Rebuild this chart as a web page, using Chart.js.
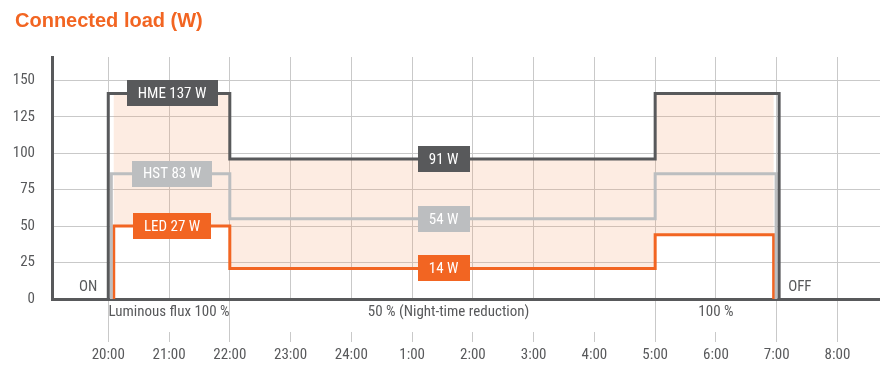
<!DOCTYPE html>
<html>
<head>
<meta charset="utf-8">
<script src="https://cdn.jsdelivr.net/npm/chart.js@4.4.1/dist/chart.umd.min.js"></script>
<style>
  html, body { margin: 0; padding: 0; background: #fff; }
  #wrap { position: relative; width: 880px; height: 379px; }
  #title { position: absolute; left: 15px; top: 10px; font: bold 20px/20px "Liberation Sans", Arial, sans-serif; color: #f26522; }
</style>
</head>
<body>
<div id="wrap">
  <div id="title">Connected load (W)</div>
  <canvas id="loadChart"></canvas>
</div>
<script>
// time axis in hours, 24 = midnight, 32 = 8:00 next morning
const hourTicks = [20, 21, 22, 23, 24, 25, 26, 27, 28, 29, 30, 31, 32];
const hourLabels = ['20:00', '21:00', '22:00', '23:00', '24:00', '1:00', '2:00', '3:00', '4:00', '5:00', '6:00', '7:00', '8:00'];
const yTicks = [0, 25, 50, 75, 100, 125, 150];

// step changes: time of the step and the load held after it
const hmeTimes = [20, 20, 22, 29, 31.04];
const hmeLoad = [0, 141, 96, 141, 0];
const hstTimes = [20.05, 20.05, 22, 29, 30.99];
const hstLoad = [0, 86, 55, 86, 0];
const ledTimes = [20.09, 20.09, 22, 29, 30.95];
const ledLoad = [0, 50, 21, 44, 0];

// boxed value labels: series, step index, time where the box sits
const boxTexts = ['HME 137 W', 'HST 83 W', 'LED 27 W', '91 W', '54 W', '14 W'];
const boxSeries = [0, 1, 2, 0, 1, 2];
const boxStep = [1, 1, 1, 2, 2, 2];
const boxTime = [21.05, 21.05, 21.05, 25.52, 25.52, 25.52];

// luminous flux sections under the axis
const sectionLabels = ['Luminous flux 100 %', '50 % (Night-time reduction)', '100 %'];
const sectionCenter = [21, 25.6, 30];
const sectionBounds = [20, 22, 29, 31, 32];

const DARK = '#58595b';
const LIGHT = '#bcbec0';
const ORANGE = '#f26522';
const GRID = '#c9c9c9';
const TEXT = '#58595b';
const FONT = '"Roboto Condensed", "Liberation Sans Narrow", Roboto, sans-serif';

const seriesColors = [DARK, LIGHT, ORANGE];
const seriesLoads = [hmeLoad, hstLoad, ledLoad];

const toPoints = (times, load) => times.map((t, i) => ({ x: t, y: load[i] }));

const overlay = {
  id: 'overlay',
  afterDraw(chart) {
    const { ctx, chartArea: a, scales: { x, y } } = chart;
    ctx.save();

    // tick marks below the axis, longer at section boundaries
    ctx.strokeStyle = GRID;
    ctx.lineWidth = 1;
    hourTicks.forEach(h => {
      const px = Math.round(x.getPixelForValue(h) - 0.5) + 0.5;
      const top = sectionBounds.includes(h) ? a.bottom + 2 : a.bottom + 33;
      ctx.beginPath();
      ctx.moveTo(px, top);
      ctx.lineTo(px, a.bottom + 43);
      ctx.stroke();
    });

    ctx.font = '15px ' + FONT;
    ctx.fillStyle = TEXT;
    ctx.textBaseline = 'middle';
    ctx.textAlign = 'center';
    sectionLabels.forEach((s, i) => {
      ctx.fillText(s, x.getPixelForValue(sectionCenter[i]), a.bottom + 13);
    });

    ctx.textAlign = 'right';
    ctx.fillText('ON', x.getPixelForValue(hmeTimes[0]) - 11, a.bottom - 12);
    ctx.textAlign = 'left';
    ctx.fillText('OFF', x.getPixelForValue(hmeTimes[hmeTimes.length - 1]) + 9, a.bottom - 12);

    // value boxes sitting on the lines
    ctx.textAlign = 'center';
    boxTexts.forEach((t, i) => {
      const px = x.getPixelForValue(boxTime[i]);
      const py = y.getPixelForValue(seriesLoads[boxSeries[i]][boxStep[i]]);
      const w = Math.round(ctx.measureText(t).width) + 22;
      const h = 26;
      ctx.fillStyle = seriesColors[boxSeries[i]];
      ctx.fillRect(Math.round(px - w / 2), Math.round(py - h / 2), w, h);
      ctx.fillStyle = '#fff';
      ctx.fillText(t, px, py + 1);
    });
    ctx.restore();
  }
};

const lineStyle = {
  stepped: true,
  pointRadius: 0,
  borderWidth: 3,
  borderJoinStyle: 'miter',
  borderCapStyle: 'butt',
  tension: 0
};

new Chart(document.getElementById('loadChart'), {
  type: 'line',
  data: {
    datasets: [
      {
        label: 'HME',
        data: toPoints(hmeTimes, hmeLoad),
        borderColor: DARK,
        backgroundColor: 'rgba(247, 160, 110, 0.2)',
        fill: { target: 2 },
        ...lineStyle
      },
      {
        label: 'HST',
        data: toPoints(hstTimes, hstLoad),
        borderColor: LIGHT,
        fill: false,
        ...lineStyle
      },
      {
        label: 'LED',
        data: toPoints(ledTimes, ledLoad),
        borderColor: ORANGE,
        fill: false,
        ...lineStyle
      }
    ]
  },
  options: {
    responsive: true,
    maintainAspectRatio: false,
    animation: false,
    layout: { padding: { top: 57 } },
    plugins: {
      legend: { display: false },
      tooltip: { enabled: false },
      filler: { drawTime: 'beforeDatasetsDraw' }
    },
    scales: {
      x: {
        type: 'linear',
        min: 19.074,
        max: 32.7,
        afterBuildTicks: s => { s.ticks = hourTicks.map(v => ({ value: v })); },
        afterFit: s => { s.height = 80; s.paddingLeft = 0; s.paddingRight = 0; },
        grid: { color: GRID, drawTicks: false },
        border: { color: DARK, width: 3 },
        ticks: {
          autoSkip: false,
          maxRotation: 0,
          padding: 47,
          color: TEXT,
          font: { family: FONT, size: 15 },
          callback: v => hourLabels[hourTicks.indexOf(v)]
        }
      },
      y: {
        min: 0,
        max: 166,
        afterBuildTicks: s => { s.ticks = yTicks.map(v => ({ value: v })); },
        afterFit: s => { s.width = 52; s.paddingTop = 0; s.paddingBottom = 0; },
        grid: { color: GRID, drawTicks: false },
        border: { color: DARK, width: 3 },
        ticks: {
          padding: 17,
          color: TEXT,
          font: { family: FONT, size: 15 }
        }
      }
    }
  },
  plugins: [overlay]
});
</script>
</body>
</html>
